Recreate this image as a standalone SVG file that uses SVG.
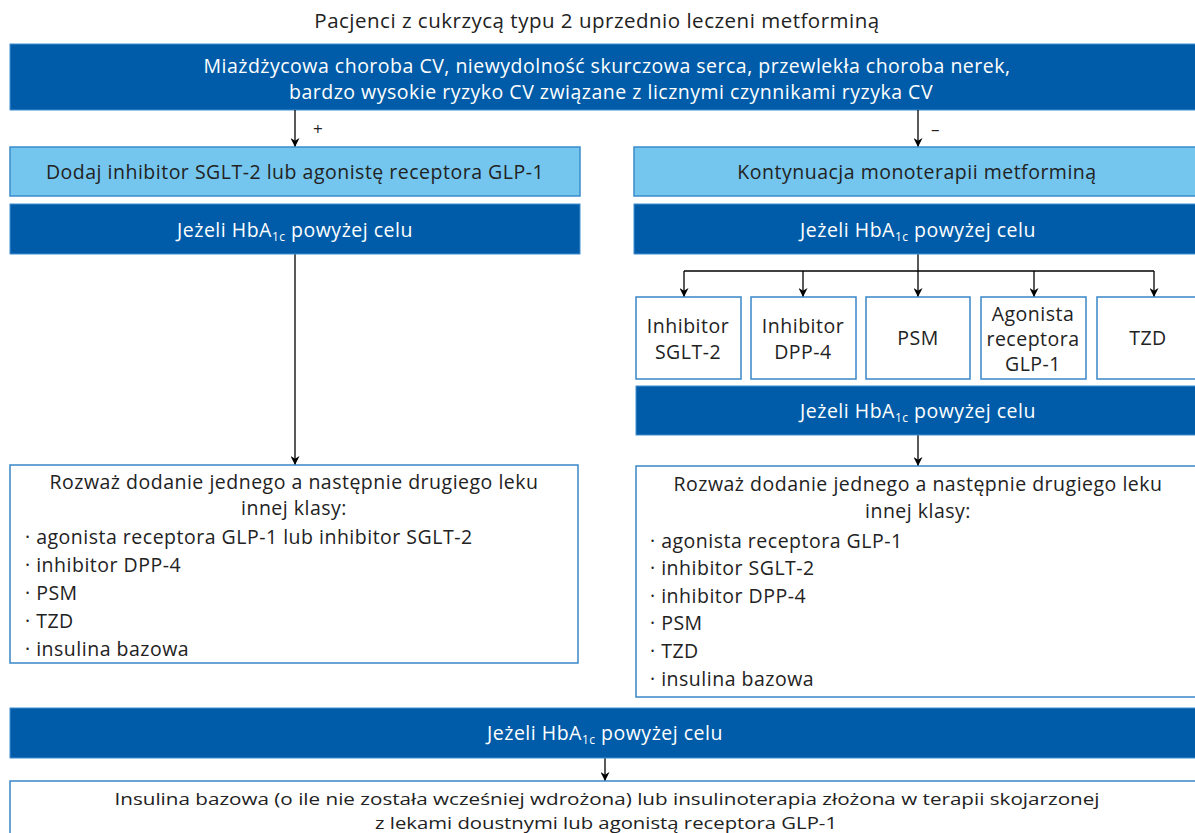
<svg xmlns="http://www.w3.org/2000/svg" width="1195" height="833" viewBox="0 0 1195 833">
<defs>
<style>
text{font-family:"Open Sans","Noto Sans","Liberation Sans",sans-serif;}
.t{font-size:19.5px;fill:#222;letter-spacing:0.5px;}
.w{font-size:19.5px;fill:#ffffff;text-anchor:middle;letter-spacing:0.5px;}
.c{text-anchor:middle;}
.dark{fill:#005ca8;stroke:#3f8fcf;stroke-width:1;}
.light{fill:#74c6ee;stroke:#3a8ccb;stroke-width:1.5;}
.white{fill:#ffffff;stroke:#3a87c8;stroke-width:1.5;}
.con{stroke:#000;stroke-width:1.3;fill:none;}
.bt{font-size:17px;fill:#222;text-anchor:middle;}
</style>
<marker id="ah" viewBox="0 0 10 10" refX="10" refY="5" markerWidth="9" markerHeight="9" markerUnits="userSpaceOnUse" orient="auto">
<path d="M0,0 L10,5 L0,10 L3,5 Z" fill="#000"/>
</marker>
</defs>
<rect width="1195" height="833" fill="#fff"/>
<g id="title"><text class="t c" x="597" y="28" style="font-size:20.5px">Pacjenci z cukrzycą typu 2 uprzednio leczeni metforminą</text></g>
<g id="top"><rect class="dark" x="10" y="44" width="1195" height="66"/>
<text class="w" x="607" y="73">Miażdżycowa choroba CV, niewydolność skurczowa serca, przewlekła choroba nerek,</text>
<text class="w" x="611" y="99">bardzo wysokie ryzyko CV związane z licznymi czynnikami ryzyka CV</text></g>
<g id="connectors">
<line class="con" x1="295" y1="110" x2="295" y2="147" marker-end="url(#ah)"/>
<line class="con" x1="918" y1="110" x2="918" y2="147" marker-end="url(#ah)"/>
<line class="con" x1="295" y1="254" x2="295" y2="465" marker-end="url(#ah)"/>
<line class="con" x1="918" y1="254" x2="918" y2="271"/>
<line class="con" x1="684" y1="271" x2="1154" y2="271"/>
<line class="con" x1="684" y1="271" x2="684" y2="297" marker-end="url(#ah)"/>
<line class="con" x1="803" y1="271" x2="803" y2="297" marker-end="url(#ah)"/>
<line class="con" x1="918" y1="271" x2="918" y2="297" marker-end="url(#ah)"/>
<line class="con" x1="1034" y1="271" x2="1034" y2="297" marker-end="url(#ah)"/>
<line class="con" x1="1154" y1="271" x2="1154" y2="297" marker-end="url(#ah)"/>
<line class="con" x1="918" y1="435" x2="918" y2="466" marker-end="url(#ah)"/>
<line class="con" x1="605" y1="758" x2="605" y2="781" marker-end="url(#ah)"/>
<text x="313" y="135" style="font-size:17px;fill:#222">+</text>
<text x="931" y="135" style="font-size:17px;fill:#222">–</text>
</g>
<g id="left-add"><rect class="light" x="10" y="147" width="570" height="49"/>
<text class="t c" x="295" y="179">Dodaj inhibitor SGLT-2 lub agonistę receptora GLP-1</text></g>
<g id="left-hba"><rect class="dark" x="10" y="204" width="570" height="50"/>
<text class="w" x="295" y="237">Jeżeli HbA<tspan font-size="12" dy="4">1c</tspan><tspan dy="-4"> powyżej celu</tspan></text></g>
<g id="right-cont"><rect class="light" x="634" y="147" width="570" height="49"/>
<text class="t c" x="917" y="179">Kontynuacja monoterapii metforminą</text></g>
<g id="right-hba"><rect class="dark" x="634" y="204" width="570" height="50"/>
<text class="w" x="918" y="237">Jeżeli HbA<tspan font-size="12" dy="4">1c</tspan><tspan dy="-4"> powyżej celu</tspan></text></g>
<g id="opt1"><rect class="white" x="636" y="297" width="105" height="82"/>
<text class="t c" x="688" y="333">Inhibitor</text><text class="t c" x="688" y="359">SGLT-2</text></g>
<g id="opt2"><rect class="white" x="751" y="297" width="105" height="82"/>
<text class="t c" x="803" y="333">Inhibitor</text><text class="t c" x="803" y="359">DPP-4</text></g>
<g id="opt3"><rect class="white" x="866" y="297" width="104" height="82"/>
<text class="t c" x="918" y="345">PSM</text></g>
<g id="opt4"><rect class="white" x="981" y="297" width="105" height="82"/>
<text class="t c" x="1033" y="321">Agonista</text><text class="t c" x="1033" y="346">receptora</text><text class="t c" x="1033" y="371">GLP-1</text></g>
<g id="opt5"><rect class="white" x="1097" y="297" width="110" height="82"/>
<text class="t c" x="1148" y="345">TZD</text></g>
<g id="right-hba2"><rect class="dark" x="636" y="386" width="570" height="49"/>
<text class="w" x="918" y="418">Jeżeli HbA<tspan font-size="12" dy="4">1c</tspan><tspan dy="-4"> powyżej celu</tspan></text></g>
<g id="left-list"><rect class="white" x="10" y="465" width="568" height="198"/>
<text class="t c" x="294" y="489">Rozważ dodanie jednego a następnie drugiego leku</text>
<text class="t c" x="294" y="515">innej klasy:</text>
<text class="t" x="25" y="544">· agonista receptora GLP-1 lub inhibitor SGLT-2</text>
<text class="t" x="25" y="572">· inhibitor DPP-4</text>
<text class="t" x="25" y="600">· PSM</text>
<text class="t" x="25" y="628">· TZD</text>
<text class="t" x="25" y="656">· insulina bazowa</text></g>
<g id="right-list"><rect class="white" x="636" y="466" width="570" height="231"/>
<text class="t c" x="918" y="491">Rozważ dodanie jednego a następnie drugiego leku</text>
<text class="t c" x="918" y="518">innej klasy:</text>
<text class="t" x="650" y="548">· agonista receptora GLP-1</text>
<text class="t" x="650" y="575">· inhibitor SGLT-2</text>
<text class="t" x="650" y="603">· inhibitor DPP-4</text>
<text class="t" x="650" y="630">· PSM</text>
<text class="t" x="650" y="658">· TZD</text>
<text class="t" x="650" y="686">· insulina bazowa</text></g>
<g id="bottom-hba"><rect class="dark" x="10" y="708" width="1195" height="50"/>
<text class="w" x="605" y="740">Jeżeli HbA<tspan font-size="12" dy="4">1c</tspan><tspan dy="-4"> powyżej celu</tspan></text></g>
<g id="bottom"><rect class="white" x="10" y="781" width="1195" height="60"/>
<text class="bt" x="607" y="805" textLength="985" lengthAdjust="spacingAndGlyphs">Insulina bazowa (o ile nie została wcześniej wdrożona) lub insulinoterapia złożona w terapii skojarzonej</text>
<text class="bt" x="606" y="829" textLength="462" lengthAdjust="spacingAndGlyphs">z lekami doustnymi lub agonistą receptora GLP-1</text></g>
</svg>
